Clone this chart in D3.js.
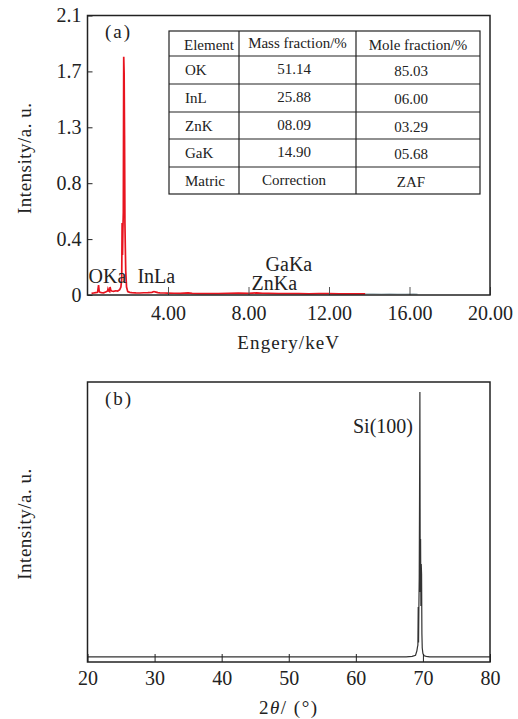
<!DOCTYPE html>
<html><head><meta charset="utf-8">
<script src="https://cdn.jsdelivr.net/npm/d3@7/dist/d3.min.js"></script>
<style>body{margin:0;background:#fff}svg{display:block}svg text{font-family:'Liberation Serif','Times New Roman','DejaVu Serif',serif !important;fill:#222}</style>
</head><body><svg id="c" width="518" height="719" font-family="Liberation Serif"></svg>
<script>
// ---------- Panel (a) EDS data ----------
const edsEnergy = [0.2,0.3,0.4,0.5,0.55,0.58,0.62,0.7,0.8,0.9,1.0,1.02,1.06,1.1,1.12,1.16,1.2,1.3,1.4,1.5,1.6,1.66,1.7,1.72,1.74,1.76,1.78,1.8,1.82,1.84,1.86,1.88,1.9,1.94,2.0,2.1,2.2,2.4,2.6,2.8,3.0,3.2,3.3,3.4,3.5,3.6,3.8,4.0,4.3,4.6,5.0,5.2,5.5,6.0,6.5,7.0,7.5,8.0,8.4,8.7,9.0,9.5,10.0,10.5,11.0,11.5,12.0,12.5,13.0,13.5,13.8];
const edsCounts = [0.012,0.015,0.018,0.02,0.075,0.03,0.02,0.018,0.016,0.022,0.03,0.045,0.03,0.025,0.06,0.035,0.03,0.028,0.032,0.03,0.04,0.06,0.12,0.54,0.3,0.5,0.62,1.79,1.67,1.2,0.54,0.35,0.18,0.06,0.025,0.02,0.018,0.016,0.015,0.017,0.018,0.02,0.026,0.022,0.018,0.016,0.015,0.014,0.013,0.012,0.016,0.012,0.011,0.01,0.011,0.012,0.014,0.012,0.016,0.013,0.012,0.011,0.01,0.011,0.009,0.01,0.011,0.009,0.008,0.009,0.008];
const edsTailEnergy = [13.8,14.2,14.6,15.0,15.4,15.8,16.2,16.4];
const edsTailCounts = [0.008,0.008,0.007,0.008,0.007,0.007,0.008,0.007];
const edsYTicks = [0,0.42,0.84,1.26,1.68,2.1];
const edsYLabels = ["0","0.4","0.8","1.3","1.7","2.1"];
const edsXTicks = [4,8,12,16,20];
const peakLabels = ["OKa","InLa","GaKa","ZnKa"];
const peakLabelEnergy = [0.05,2.48,8.85,8.15];
const peakLabelLevel = [0.09,0.09,0.18,0.035];
const tableHeader = ["Element","Mass fraction/%","Mole fraction/%"];
const tableElement = ["OK","InL","ZnK","GaK","Matric"];
const tableMass = ["51.14","25.88","08.09","14.90","Correction"];
const tableMole = ["85.03","06.00","03.29","05.68","ZAF"];

// ---------- Panel (b) XRD data ----------
const xrdAngle = [20,30,40,50,60,67.5,68.4,68.9,69.1,69.2,69.25,69.3,69.35,69.4,69.45,69.5,69.55,69.6,69.65,69.7,69.75,69.8,69.85,69.9,70.0,70.2,70.5,71,80];
const xrdIntensity = [0.018,0.018,0.018,0.018,0.018,0.018,0.02,0.024,0.04,0.055,0.06,0.196,0.07,0.2,0.3,0.6,0.964,0.25,0.439,0.2,0.35,0.314,0.1,0.05,0.03,0.022,0.02,0.018,0.018];
const xrdXTicks = [20,30,40,50,60,70,80];

const FONT = "Liberation Serif";
const svg = d3.select("#c");
const L = 87.5, R = 490;

// ===== Panel A =====
const aT = 15.5, aB = 295;
const xa = d3.scaleLinear().domain([0,20]).range([L,R]);
const ya = d3.scaleLinear().domain([0,2.1]).range([aB,aT]);
const gA = svg.append("g");

const lineA = d3.line().x(d=>xa(d[0])).y(d=>ya(d[1]));
gA.append("path").datum(edsTailEnergy.map((e,i)=>[e,edsTailCounts[i]]))
  .attr("d",lineA).attr("fill","none").attr("stroke","#a9b9bf").attr("stroke-width",1.3);
gA.append("path").datum(edsEnergy.map((e,i)=>[e,edsCounts[i]]))
  .attr("d",lineA).attr("fill","none").attr("stroke","#e8141f").attr("stroke-width",1.7);

const axA = gA.append("g").attr("transform",`translate(0,${aB})`)
  .call(d3.axisBottom(xa).tickValues(edsXTicks).tickFormat(d=>d3.format(".2f")(d)).tickSizeInner(-8).tickSizeOuter(0).tickPadding(11));
axA.attr("font-family",FONT);
axA.select(".domain").remove();
axA.selectAll("line").attr("stroke","#555");
axA.selectAll("text").attr("font-size",20).attr("fill","#222");

const ayA = gA.append("g").attr("transform",`translate(${L},0)`)
  .call(d3.axisLeft(ya).tickValues(edsYTicks).tickFormat((d,i)=>edsYLabels[i]).tickSizeInner(-5).tickSizeOuter(0).tickPadding(6));
ayA.attr("font-family",FONT);
ayA.select(".domain").remove();
ayA.selectAll("line").attr("stroke","#222");
ayA.selectAll("text").attr("font-size",20).attr("fill","#222");

gA.append("rect").attr("x",L).attr("y",aT).attr("width",R-L).attr("height",aB-aT)
  .attr("fill","none").attr("stroke","#222").attr("stroke-width",1.5);

peakLabels.forEach((t,i)=>{
  gA.append("text").attr("x",xa(peakLabelEnergy[i])).attr("y",ya(peakLabelLevel[i]))
    .attr("font-size",20).text(t);
});
gA.append("text").attr("x",105).attr("y",38).attr("font-size",19).attr("letter-spacing",2).text("(a)");
gA.append("text").attr("x",(L+R)/2).attr("y",349).attr("text-anchor","middle").attr("font-size",19).attr("letter-spacing",1.1).text("Engery/keV");
gA.append("text").attr("transform",`translate(31,${(aT+aB)/2+3}) rotate(-90)`).attr("text-anchor","middle").attr("font-size",19).attr("letter-spacing",0.5).text("Intensity/a. u.");

// table
const colX = [169,239,356,480];
const rowY = [31,56,84,112,139,167,194];
const tg = gA.append("g");
tg.append("rect").attr("x",colX[0]).attr("y",rowY[0]).attr("width",colX[3]-colX[0]).attr("height",rowY[6]-rowY[0])
  .attr("fill","#fff").attr("stroke","#222").attr("stroke-width",1.2);
colX.slice(1,3).forEach(x=>tg.append("line").attr("x1",x).attr("x2",x).attr("y1",rowY[0]).attr("y2",rowY[6]).attr("stroke","#222").attr("stroke-width",1.2));
rowY.slice(1,6).forEach(y=>tg.append("line").attr("x1",colX[0]).attr("x2",colX[3]).attr("y1",y).attr("y2",y).attr("stroke","#222").attr("stroke-width",1.2));
const cellText = (x,y,t,anchor)=>tg.append("text").attr("x",x).attr("y",y).attr("text-anchor",anchor).attr("dominant-baseline","central").attr("font-size",15).text(t);
cellText(184,rowY[0]+13.5,tableHeader[0],"start");
cellText((colX[1]+colX[2])/2,rowY[0]+12,tableHeader[1],"middle");
cellText((colX[2]+colX[3])/2,rowY[0]+14,tableHeader[2],"middle");
tableElement.forEach((t,i)=>{
  const yc=(rowY[i+1]+rowY[i+2])/2;
  cellText(185,yc,t,"start");
  cellText(294,yc-1,tableMass[i],"middle");
  cellText(411,yc+1,tableMole[i],"middle");
});

// ===== Panel B =====
const bT = 382, bB = 662;
const xb = d3.scaleLinear().domain([20,80]).range([L,R]);
const yb = d3.scaleLinear().domain([0,1]).range([bB,bT]);
const gB = svg.append("g");
gB.append("path").datum(xrdAngle.map((a,i)=>[a,xrdIntensity[i]]))
  .attr("d",d3.line().x(d=>xb(d[0])).y(d=>yb(d[1])))
  .attr("fill","none").attr("stroke","#333").attr("stroke-width",1.2);
const axB = gB.append("g").attr("transform",`translate(0,${bB})`)
  .call(d3.axisBottom(xb).tickValues(xrdXTicks).tickSizeInner(-8).tickSizeOuter(0).tickPadding(9));
axB.attr("font-family",FONT);
axB.select(".domain").remove();
axB.selectAll("line").attr("stroke","#222");
axB.selectAll("text").attr("font-size",20).attr("fill","#222");
gB.append("rect").attr("x",L).attr("y",bT).attr("width",R-L).attr("height",bB-bT)
  .attr("fill","none").attr("stroke","#222").attr("stroke-width",1.5);
gB.append("text").attr("x",105).attr("y",405).attr("font-size",19).attr("letter-spacing",2).text("(b)");
gB.append("text").attr("x",353).attr("y",433).attr("font-size",20).text("Si(100)");
const xt = gB.append("text").attr("x",(L+R)/2).attr("y",714).attr("text-anchor","middle").attr("font-size",19).attr("letter-spacing",1.5);
xt.append("tspan").text("2");
xt.append("tspan").attr("font-style","italic").text("θ");
xt.append("tspan").text("/ (°)");
gB.append("text").attr("transform",`translate(31,${(bT+bB)/2+2}) rotate(-90)`).attr("text-anchor","middle").attr("font-size",19).attr("letter-spacing",0.5).text("Intensity/a. u.");
</script></body></html>
